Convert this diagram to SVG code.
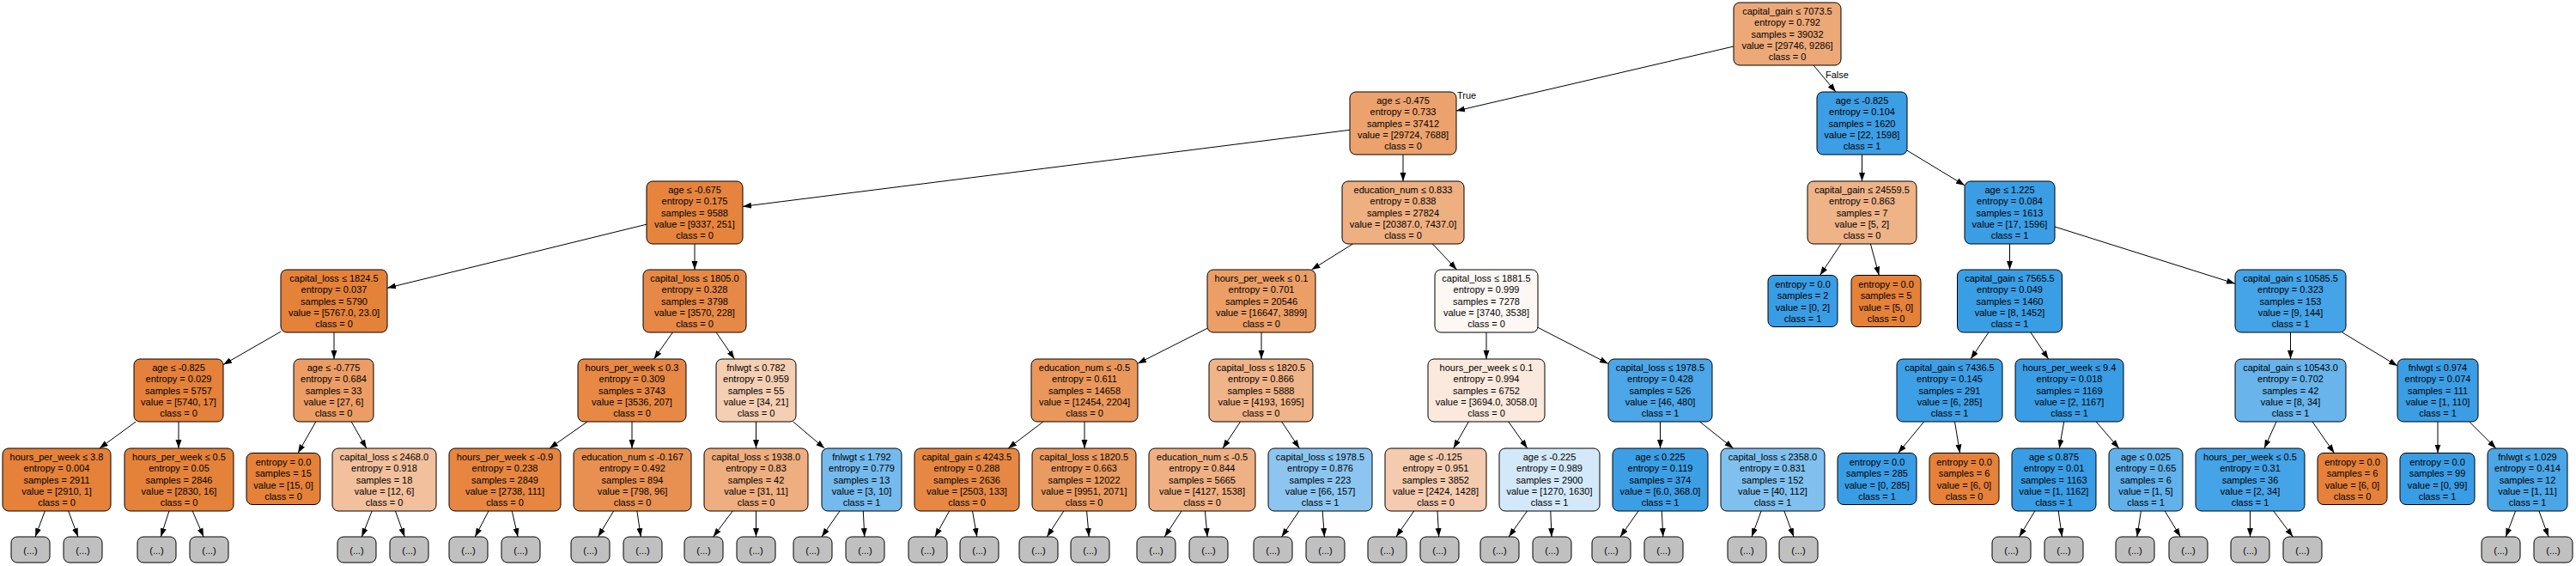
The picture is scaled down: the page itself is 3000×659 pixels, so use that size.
<svg xmlns="http://www.w3.org/2000/svg" width="3000" height="659" viewBox="0 0 3000 659">
<defs>
<style>
.node rect{stroke:#000;stroke-width:1}
.node text,.lbl{font-family:"Liberation Sans",Arial,sans-serif;font-size:11px;fill:#000;text-anchor:middle}
.lbl{text-anchor:start}
.dots rect{fill:#c0c0c0;stroke:#000;stroke-width:1}
.dots text{font-family:"Liberation Sans",Arial,sans-serif;font-size:11px;fill:#000;text-anchor:middle}
#edges path{stroke:#000;stroke-width:1;fill:none;marker-end:url(#ah)}
</style>
<marker id="ah" markerWidth="10" markerHeight="8" refX="10" refY="4" orient="auto" markerUnits="userSpaceOnUse"><path d="M0,0.5L10,4L0,7.5z" fill="#000"/></marker>
</defs>
<rect width="3000" height="659" fill="#fff"/>
<g id="edges">
<path d="M2019 54L1696 129.1"/>
<path d="M2112 76L2138 107"/>
<path d="M1572 151.3L865 240.4"/>
<path d="M1634 180L1634 211"/>
<path d="M2168.5 180L2168.5 211"/>
<path d="M2221 175.2L2288 215.8"/>
<path d="M753 261.2L451 335.3"/>
<path d="M809 284L809 314"/>
<path d="M1575.5 284L1527.5 314"/>
<path d="M1668.4 284L1696.6 314"/>
<path d="M2144 284L2119.6 320.5"/>
<path d="M2178.4 284L2188.3 320.5"/>
<path d="M2340.5 284L2340.5 314"/>
<path d="M2393 264L2603 330.2"/>
<path d="M327 386.1L260 424.6"/>
<path d="M389 387L389 418"/>
<path d="M783.4 387L761.6 418"/>
<path d="M834.1 387L855.4 418"/>
<path d="M1406 382.3L1325 423.2"/>
<path d="M1469 387L1469 418"/>
<path d="M1731 387L1731 418"/>
<path d="M1791 381.3L1873 423.4"/>
<path d="M2315.9 387L2295.1 418"/>
<path d="M2364.9 387L2385.6 418"/>
<path d="M2667.5 387L2667.5 418"/>
<path d="M2727.7 387L2792 426"/>
<path d="M158.2 491L115.8 522"/>
<path d="M208 491L208 522"/>
<path d="M367.8 491L347 527.5"/>
<path d="M409.2 491L426.8 522"/>
<path d="M684.1 491L639.9 522"/>
<path d="M736 491L736 522"/>
<path d="M880.5 491L880.5 522"/>
<path d="M923.7 491L960.3 522"/>
<path d="M1214.9 491L1174.1 522"/>
<path d="M1263 491L1263 522"/>
<path d="M1444.5 491L1424 522"/>
<path d="M1492.7 491L1513.3 522"/>
<path d="M1710.3 491L1692.7 522"/>
<path d="M1756.8 491L1778.7 522"/>
<path d="M1933.5 491L1933.5 522"/>
<path d="M1979.5 491L2018.5 522"/>
<path d="M2240.6 491L2210.6 527.5"/>
<path d="M2276.5 491L2282.5 527.5"/>
<path d="M2403.7 491L2398.3 522"/>
<path d="M2441.2 491L2467.8 522"/>
<path d="M2651 491L2637 522"/>
<path d="M2693 491L2718.5 527.5"/>
<path d="M2839 491L2839 527.5"/>
<path d="M2875.7 491L2906.8 522"/>
<path d="M52.3 595L41.1 625"/>
<path d="M79.7 595L90.9 625"/>
<path d="M196.9 595L187.3 625"/>
<path d="M224.2 595L237.1 625"/>
<path d="M433.2 595L421.4 625"/>
<path d="M460.5 595L471.2 625"/>
<path d="M569 595L553.3 625"/>
<path d="M596.3 595L603.1 625"/>
<path d="M714.6 595L696.5 625"/>
<path d="M741.9 595L746.3 625"/>
<path d="M853.2 595L830.7 625"/>
<path d="M880.5 595L880.5 625"/>
<path d="M978 595L957 625"/>
<path d="M1005.3 595L1006.8 625"/>
<path d="M1105.6 595L1088.9 625"/>
<path d="M1132.5 595L1137.8 625"/>
<path d="M1238.8 595L1219.3 625"/>
<path d="M1265.6 595L1268.2 625"/>
<path d="M1376 595L1356.3 625"/>
<path d="M1403.4 595L1406.1 625"/>
<path d="M1512.9 595L1492.6 625"/>
<path d="M1540.2 595L1542.4 625"/>
<path d="M1646.7 595L1625.9 625"/>
<path d="M1674 595L1675.7 625"/>
<path d="M1778.5 595L1757.2 625"/>
<path d="M1805.8 595L1807 625"/>
<path d="M1908 595L1887 625"/>
<path d="M1935.3 595L1936.8 625"/>
<path d="M2051.1 595L2040 625"/>
<path d="M2077.9 595L2089 625"/>
<path d="M2369.8 595L2351.6 625"/>
<path d="M2397.2 595L2401.4 625"/>
<path d="M2493.4 595L2488.8 625"/>
<path d="M2521.2 595L2539.4 625"/>
<path d="M2620.5 595L2620.5 625"/>
<path d="M2647.8 595L2670.3 625"/>
<path d="M2929.6 595L2918.2 625"/>
<path d="M2956.9 595L2968 625"/>
<text class="lbl" x="1697" y="115">True</text>
<text class="lbl" x="2126" y="90.5">False</text>
</g>

<g id="n0" class="node"><rect x="2019" y="3" width="125" height="73" rx="7" fill="#eda877"/><text x="2081.5" y="17"><tspan x="2081.5">capital_gain ≤ 7073.5</tspan><tspan x="2081.5" dy="13.3">entropy = 0.792</tspan><tspan x="2081.5" dy="13.3">samples = 39032</tspan><tspan x="2081.5" dy="13.3">value = [29746, 9286]</tspan><tspan x="2081.5" dy="13.3">class = 0</tspan></text></g>
<g id="n1" class="node"><rect x="1572" y="107" width="124" height="73" rx="7" fill="#eca26c"/><text x="1634" y="121"><tspan x="1634">age ≤ -0.475</tspan><tspan x="1634" dy="13.3">entropy = 0.733</tspan><tspan x="1634" dy="13.3">samples = 37412</tspan><tspan x="1634" dy="13.3">value = [29724, 7688]</tspan><tspan x="1634" dy="13.3">class = 0</tspan></text></g>
<g id="n2" class="node"><rect x="753" y="211" width="112" height="73" rx="7" fill="#e6843e"/><text x="809" y="225"><tspan x="809">age ≤ -0.675</tspan><tspan x="809" dy="13.3">entropy = 0.175</tspan><tspan x="809" dy="13.3">samples = 9588</tspan><tspan x="809" dy="13.3">value = [9337, 251]</tspan><tspan x="809" dy="13.3">class = 0</tspan></text></g>
<g id="n3" class="node"><rect x="327" y="314" width="124" height="73" rx="7" fill="#e5823a"/><text x="389" y="328"><tspan x="389">capital_loss ≤ 1824.5</tspan><tspan x="389" dy="13.3">entropy = 0.037</tspan><tspan x="389" dy="13.3">samples = 5790</tspan><tspan x="389" dy="13.3">value = [5767.0, 23.0]</tspan><tspan x="389" dy="13.3">class = 0</tspan></text></g>
<g id="n4" class="node"><rect x="156" y="418" width="104" height="73" rx="7" fill="#e5813a"/><text x="208" y="432"><tspan x="208">age ≤ -0.825</tspan><tspan x="208" dy="13.3">entropy = 0.029</tspan><tspan x="208" dy="13.3">samples = 5757</tspan><tspan x="208" dy="13.3">value = [5740, 17]</tspan><tspan x="208" dy="13.3">class = 0</tspan></text></g>
<g id="n5" class="node"><rect x="3" y="522" width="126" height="73" rx="7" fill="#e58139"/><text x="66" y="536"><tspan x="66">hours_per_week ≤ 3.8</tspan><tspan x="66" dy="13.3">entropy = 0.004</tspan><tspan x="66" dy="13.3">samples = 2911</tspan><tspan x="66" dy="13.3">value = [2910, 1]</tspan><tspan x="66" dy="13.3">class = 0</tspan></text></g>
<g id="n6" class="node"><rect x="145" y="522" width="127" height="73" rx="7" fill="#e5823a"/><text x="208.5" y="536"><tspan x="208.5">hours_per_week ≤ 0.5</tspan><tspan x="208.5" dy="13.3">entropy = 0.05</tspan><tspan x="208.5" dy="13.3">samples = 2846</tspan><tspan x="208.5" dy="13.3">value = [2830, 16]</tspan><tspan x="208.5" dy="13.3">class = 0</tspan></text></g>
<g id="n7" class="node"><rect x="342" y="418" width="93" height="73" rx="7" fill="#eb9d65"/><text x="388.5" y="432"><tspan x="388.5">age ≤ -0.775</tspan><tspan x="388.5" dy="13.3">entropy = 0.684</tspan><tspan x="388.5" dy="13.3">samples = 33</tspan><tspan x="388.5" dy="13.3">value = [27, 6]</tspan><tspan x="388.5" dy="13.3">class = 0</tspan></text></g>
<g id="n8" class="node"><rect x="287" y="527.5" width="86" height="60" rx="7" fill="#e58139"/><text x="330" y="542"><tspan x="330">entropy = 0.0</tspan><tspan x="330" dy="13.3">samples = 15</tspan><tspan x="330" dy="13.3">value = [15, 0]</tspan><tspan x="330" dy="13.3">class = 0</tspan></text></g>
<g id="n9" class="node"><rect x="387" y="522" width="121" height="73" rx="7" fill="#f2c09c"/><text x="447.5" y="536"><tspan x="447.5">capital_loss ≤ 2468.0</tspan><tspan x="447.5" dy="13.3">entropy = 0.918</tspan><tspan x="447.5" dy="13.3">samples = 18</tspan><tspan x="447.5" dy="13.3">value = [12, 6]</tspan><tspan x="447.5" dy="13.3">class = 0</tspan></text></g>
<g id="n10" class="node"><rect x="749" y="314" width="120" height="73" rx="7" fill="#e78946"/><text x="809" y="328"><tspan x="809">capital_loss ≤ 1805.0</tspan><tspan x="809" dy="13.3">entropy = 0.328</tspan><tspan x="809" dy="13.3">samples = 3798</tspan><tspan x="809" dy="13.3">value = [3570, 228]</tspan><tspan x="809" dy="13.3">class = 0</tspan></text></g>
<g id="n11" class="node"><rect x="673" y="418" width="126" height="73" rx="7" fill="#e78845"/><text x="736" y="432"><tspan x="736">hours_per_week ≤ 0.3</tspan><tspan x="736" dy="13.3">entropy = 0.309</tspan><tspan x="736" dy="13.3">samples = 3743</tspan><tspan x="736" dy="13.3">value = [3536, 207]</tspan><tspan x="736" dy="13.3">class = 0</tspan></text></g>
<g id="n12" class="node"><rect x="523" y="522" width="130" height="73" rx="7" fill="#e68641"/><text x="588" y="536"><tspan x="588">hours_per_week ≤ -0.9</tspan><tspan x="588" dy="13.3">entropy = 0.238</tspan><tspan x="588" dy="13.3">samples = 2849</tspan><tspan x="588" dy="13.3">value = [2738, 111]</tspan><tspan x="588" dy="13.3">class = 0</tspan></text></g>
<g id="n13" class="node"><rect x="668" y="522" width="137" height="73" rx="7" fill="#e89051"/><text x="736.5" y="536"><tspan x="736.5">education_num ≤ -0.167</tspan><tspan x="736.5" dy="13.3">entropy = 0.492</tspan><tspan x="736.5" dy="13.3">samples = 894</tspan><tspan x="736.5" dy="13.3">value = [798, 96]</tspan><tspan x="736.5" dy="13.3">class = 0</tspan></text></g>
<g id="n14" class="node"><rect x="834" y="418" width="93" height="73" rx="7" fill="#f5cfb3"/><text x="880.5" y="432"><tspan x="880.5">fnlwgt ≤ 0.782</tspan><tspan x="880.5" dy="13.3">entropy = 0.959</tspan><tspan x="880.5" dy="13.3">samples = 55</tspan><tspan x="880.5" dy="13.3">value = [34, 21]</tspan><tspan x="880.5" dy="13.3">class = 0</tspan></text></g>
<g id="n15" class="node"><rect x="820" y="522" width="121" height="73" rx="7" fill="#eeae7f"/><text x="880.5" y="536"><tspan x="880.5">capital_loss ≤ 1938.0</tspan><tspan x="880.5" dy="13.3">entropy = 0.83</tspan><tspan x="880.5" dy="13.3">samples = 42</tspan><tspan x="880.5" dy="13.3">value = [31, 11]</tspan><tspan x="880.5" dy="13.3">class = 0</tspan></text></g>
<g id="n16" class="node"><rect x="957" y="522" width="93" height="73" rx="7" fill="#74baed"/><text x="1003.5" y="536"><tspan x="1003.5">fnlwgt ≤ 1.792</tspan><tspan x="1003.5" dy="13.3">entropy = 0.779</tspan><tspan x="1003.5" dy="13.3">samples = 13</tspan><tspan x="1003.5" dy="13.3">value = [3, 10]</tspan><tspan x="1003.5" dy="13.3">class = 1</tspan></text></g>
<g id="n17" class="node"><rect x="1563" y="211" width="142" height="73" rx="7" fill="#eeaf81"/><text x="1634" y="225"><tspan x="1634">education_num ≤ 0.833</tspan><tspan x="1634" dy="13.3">entropy = 0.838</tspan><tspan x="1634" dy="13.3">samples = 27824</tspan><tspan x="1634" dy="13.3">value = [20387.0, 7437.0]</tspan><tspan x="1634" dy="13.3">class = 0</tspan></text></g>
<g id="n18" class="node"><rect x="1406" y="314" width="126" height="73" rx="7" fill="#eb9f67"/><text x="1469" y="328"><tspan x="1469">hours_per_week ≤ 0.1</tspan><tspan x="1469" dy="13.3">entropy = 0.701</tspan><tspan x="1469" dy="13.3">samples = 20546</tspan><tspan x="1469" dy="13.3">value = [16647, 3899]</tspan><tspan x="1469" dy="13.3">class = 0</tspan></text></g>
<g id="n19" class="node"><rect x="1201" y="418" width="124" height="73" rx="7" fill="#ea975c"/><text x="1263" y="432"><tspan x="1263">education_num ≤ -0.5</tspan><tspan x="1263" dy="13.3">entropy = 0.611</tspan><tspan x="1263" dy="13.3">samples = 14658</tspan><tspan x="1263" dy="13.3">value = [12454, 2204]</tspan><tspan x="1263" dy="13.3">class = 0</tspan></text></g>
<g id="n20" class="node"><rect x="1065" y="522" width="122" height="73" rx="7" fill="#e68844"/><text x="1126" y="536"><tspan x="1126">capital_gain ≤ 4243.5</tspan><tspan x="1126" dy="13.3">entropy = 0.288</tspan><tspan x="1126" dy="13.3">samples = 2636</tspan><tspan x="1126" dy="13.3">value = [2503, 133]</tspan><tspan x="1126" dy="13.3">class = 0</tspan></text></g>
<g id="n21" class="node"><rect x="1202" y="522" width="121" height="73" rx="7" fill="#ea9b62"/><text x="1262.5" y="536"><tspan x="1262.5">capital_loss ≤ 1820.5</tspan><tspan x="1262.5" dy="13.3">entropy = 0.663</tspan><tspan x="1262.5" dy="13.3">samples = 12022</tspan><tspan x="1262.5" dy="13.3">value = [9951, 2071]</tspan><tspan x="1262.5" dy="13.3">class = 0</tspan></text></g>
<g id="n22" class="node"><rect x="1408" y="418" width="121" height="73" rx="7" fill="#f0b489"/><text x="1468.5" y="432"><tspan x="1468.5">capital_loss ≤ 1820.5</tspan><tspan x="1468.5" dy="13.3">entropy = 0.866</tspan><tspan x="1468.5" dy="13.3">samples = 5888</tspan><tspan x="1468.5" dy="13.3">value = [4193, 1695]</tspan><tspan x="1468.5" dy="13.3">class = 0</tspan></text></g>
<g id="n23" class="node"><rect x="1338" y="522" width="124" height="73" rx="7" fill="#efb083"/><text x="1400" y="536"><tspan x="1400">education_num ≤ -0.5</tspan><tspan x="1400" dy="13.3">entropy = 0.844</tspan><tspan x="1400" dy="13.3">samples = 5665</tspan><tspan x="1400" dy="13.3">value = [4127, 1538]</tspan><tspan x="1400" dy="13.3">class = 0</tspan></text></g>
<g id="n24" class="node"><rect x="1477" y="522" width="121" height="73" rx="7" fill="#8cc6f0"/><text x="1537.5" y="536"><tspan x="1537.5">capital_loss ≤ 1978.5</tspan><tspan x="1537.5" dy="13.3">entropy = 0.876</tspan><tspan x="1537.5" dy="13.3">samples = 223</tspan><tspan x="1537.5" dy="13.3">value = [66, 157]</tspan><tspan x="1537.5" dy="13.3">class = 1</tspan></text></g>
<g id="n25" class="node"><rect x="1671" y="314" width="120" height="73" rx="7" fill="#fef8f4"/><text x="1731" y="328"><tspan x="1731">capital_loss ≤ 1881.5</tspan><tspan x="1731" dy="13.3">entropy = 0.999</tspan><tspan x="1731" dy="13.3">samples = 7278</tspan><tspan x="1731" dy="13.3">value = [3740, 3538]</tspan><tspan x="1731" dy="13.3">class = 0</tspan></text></g>
<g id="n26" class="node"><rect x="1663" y="418" width="136" height="73" rx="7" fill="#fbe9dd"/><text x="1731" y="432"><tspan x="1731">hours_per_week ≤ 0.1</tspan><tspan x="1731" dy="13.3">entropy = 0.994</tspan><tspan x="1731" dy="13.3">samples = 6752</tspan><tspan x="1731" dy="13.3">value = [3694.0, 3058.0]</tspan><tspan x="1731" dy="13.3">class = 0</tspan></text></g>
<g id="n27" class="node"><rect x="1613" y="522" width="118" height="73" rx="7" fill="#f4cbae"/><text x="1672" y="536"><tspan x="1672">age ≤ -0.125</tspan><tspan x="1672" dy="13.3">entropy = 0.951</tspan><tspan x="1672" dy="13.3">samples = 3852</tspan><tspan x="1672" dy="13.3">value = [2424, 1428]</tspan><tspan x="1672" dy="13.3">class = 0</tspan></text></g>
<g id="n28" class="node"><rect x="1746" y="522" width="117" height="73" rx="7" fill="#d3e9f9"/><text x="1804.5" y="536"><tspan x="1804.5">age ≤ -0.225</tspan><tspan x="1804.5" dy="13.3">entropy = 0.989</tspan><tspan x="1804.5" dy="13.3">samples = 2900</tspan><tspan x="1804.5" dy="13.3">value = [1270, 1630]</tspan><tspan x="1804.5" dy="13.3">class = 1</tspan></text></g>
<g id="n29" class="node"><rect x="1873" y="418" width="121" height="73" rx="7" fill="#4ca6e7"/><text x="1933.5" y="432"><tspan x="1933.5">capital_loss ≤ 1978.5</tspan><tspan x="1933.5" dy="13.3">entropy = 0.428</tspan><tspan x="1933.5" dy="13.3">samples = 526</tspan><tspan x="1933.5" dy="13.3">value = [46, 480]</tspan><tspan x="1933.5" dy="13.3">class = 1</tspan></text></g>
<g id="n30" class="node"><rect x="1878" y="522" width="111" height="73" rx="7" fill="#3c9fe5"/><text x="1933.5" y="536"><tspan x="1933.5">age ≤ 0.225</tspan><tspan x="1933.5" dy="13.3">entropy = 0.119</tspan><tspan x="1933.5" dy="13.3">samples = 374</tspan><tspan x="1933.5" dy="13.3">value = [6.0, 368.0]</tspan><tspan x="1933.5" dy="13.3">class = 1</tspan></text></g>
<g id="n31" class="node"><rect x="2004" y="522" width="121" height="73" rx="7" fill="#80c0ee"/><text x="2064.5" y="536"><tspan x="2064.5">capital_loss ≤ 2358.0</tspan><tspan x="2064.5" dy="13.3">entropy = 0.831</tspan><tspan x="2064.5" dy="13.3">samples = 152</tspan><tspan x="2064.5" dy="13.3">value = [40, 112]</tspan><tspan x="2064.5" dy="13.3">class = 1</tspan></text></g>
<g id="n32" class="node"><rect x="2116" y="107" width="105" height="73" rx="7" fill="#3c9ee5"/><text x="2168.5" y="121"><tspan x="2168.5">age ≤ -0.825</tspan><tspan x="2168.5" dy="13.3">entropy = 0.104</tspan><tspan x="2168.5" dy="13.3">samples = 1620</tspan><tspan x="2168.5" dy="13.3">value = [22, 1598]</tspan><tspan x="2168.5" dy="13.3">class = 1</tspan></text></g>
<g id="n33" class="node"><rect x="2105" y="211" width="127" height="73" rx="7" fill="#efb388"/><text x="2168.5" y="225"><tspan x="2168.5">capital_gain ≤ 24559.5</tspan><tspan x="2168.5" dy="13.3">entropy = 0.863</tspan><tspan x="2168.5" dy="13.3">samples = 7</tspan><tspan x="2168.5" dy="13.3">value = [5, 2]</tspan><tspan x="2168.5" dy="13.3">class = 0</tspan></text></g>
<g id="n34" class="node"><rect x="2059" y="320.5" width="81" height="60" rx="7" fill="#399de5"/><text x="2099.5" y="335"><tspan x="2099.5">entropy = 0.0</tspan><tspan x="2099.5" dy="13.3">samples = 2</tspan><tspan x="2099.5" dy="13.3">value = [0, 2]</tspan><tspan x="2099.5" dy="13.3">class = 1</tspan></text></g>
<g id="n35" class="node"><rect x="2156" y="320.5" width="81" height="60" rx="7" fill="#e58139"/><text x="2196.5" y="335"><tspan x="2196.5">entropy = 0.0</tspan><tspan x="2196.5" dy="13.3">samples = 5</tspan><tspan x="2196.5" dy="13.3">value = [5, 0]</tspan><tspan x="2196.5" dy="13.3">class = 0</tspan></text></g>
<g id="n36" class="node"><rect x="2288" y="211" width="105" height="73" rx="7" fill="#3b9ee5"/><text x="2340.5" y="225"><tspan x="2340.5">age ≤ 1.225</tspan><tspan x="2340.5" dy="13.3">entropy = 0.084</tspan><tspan x="2340.5" dy="13.3">samples = 1613</tspan><tspan x="2340.5" dy="13.3">value = [17, 1596]</tspan><tspan x="2340.5" dy="13.3">class = 1</tspan></text></g>
<g id="n37" class="node"><rect x="2279.5" y="314" width="122" height="73" rx="7" fill="#3a9ee5"/><text x="2340.5" y="328"><tspan x="2340.5">capital_gain ≤ 7565.5</tspan><tspan x="2340.5" dy="13.3">entropy = 0.049</tspan><tspan x="2340.5" dy="13.3">samples = 1460</tspan><tspan x="2340.5" dy="13.3">value = [8, 1452]</tspan><tspan x="2340.5" dy="13.3">class = 1</tspan></text></g>
<g id="n38" class="node"><rect x="2209" y="418" width="123" height="73" rx="7" fill="#3d9fe6"/><text x="2270.5" y="432"><tspan x="2270.5">capital_gain ≤ 7436.5</tspan><tspan x="2270.5" dy="13.3">entropy = 0.145</tspan><tspan x="2270.5" dy="13.3">samples = 291</tspan><tspan x="2270.5" dy="13.3">value = [6, 285]</tspan><tspan x="2270.5" dy="13.3">class = 1</tspan></text></g>
<g id="n39" class="node"><rect x="2140" y="527.5" width="92" height="60" rx="7" fill="#399de5"/><text x="2186" y="542"><tspan x="2186">entropy = 0.0</tspan><tspan x="2186" dy="13.3">samples = 285</tspan><tspan x="2186" dy="13.3">value = [0, 285]</tspan><tspan x="2186" dy="13.3">class = 1</tspan></text></g>
<g id="n40" class="node"><rect x="2247" y="527.5" width="81" height="60" rx="7" fill="#e58139"/><text x="2287.5" y="542"><tspan x="2287.5">entropy = 0.0</tspan><tspan x="2287.5" dy="13.3">samples = 6</tspan><tspan x="2287.5" dy="13.3">value = [6, 0]</tspan><tspan x="2287.5" dy="13.3">class = 0</tspan></text></g>
<g id="n41" class="node"><rect x="2347" y="418" width="126" height="73" rx="7" fill="#399de5"/><text x="2410" y="432"><tspan x="2410">hours_per_week ≤ 9.4</tspan><tspan x="2410" dy="13.3">entropy = 0.018</tspan><tspan x="2410" dy="13.3">samples = 1169</tspan><tspan x="2410" dy="13.3">value = [2, 1167]</tspan><tspan x="2410" dy="13.3">class = 1</tspan></text></g>
<g id="n42" class="node"><rect x="2343" y="522" width="98" height="73" rx="7" fill="#399de5"/><text x="2392" y="536"><tspan x="2392">age ≤ 0.875</tspan><tspan x="2392" dy="13.3">entropy = 0.01</tspan><tspan x="2392" dy="13.3">samples = 1163</tspan><tspan x="2392" dy="13.3">value = [1, 1162]</tspan><tspan x="2392" dy="13.3">class = 1</tspan></text></g>
<g id="n43" class="node"><rect x="2456" y="522" width="86" height="73" rx="7" fill="#61b1ea"/><text x="2499" y="536"><tspan x="2499">age ≤ 0.025</tspan><tspan x="2499" dy="13.3">entropy = 0.65</tspan><tspan x="2499" dy="13.3">samples = 6</tspan><tspan x="2499" dy="13.3">value = [1, 5]</tspan><tspan x="2499" dy="13.3">class = 1</tspan></text></g>
<g id="n44" class="node"><rect x="2603" y="314" width="129" height="73" rx="7" fill="#45a3e7"/><text x="2667.5" y="328"><tspan x="2667.5">capital_gain ≤ 10585.5</tspan><tspan x="2667.5" dy="13.3">entropy = 0.323</tspan><tspan x="2667.5" dy="13.3">samples = 153</tspan><tspan x="2667.5" dy="13.3">value = [9, 144]</tspan><tspan x="2667.5" dy="13.3">class = 1</tspan></text></g>
<g id="n45" class="node"><rect x="2603" y="418" width="129" height="73" rx="7" fill="#68b4eb"/><text x="2667.5" y="432"><tspan x="2667.5">capital_gain ≤ 10543.0</tspan><tspan x="2667.5" dy="13.3">entropy = 0.702</tspan><tspan x="2667.5" dy="13.3">samples = 42</tspan><tspan x="2667.5" dy="13.3">value = [8, 34]</tspan><tspan x="2667.5" dy="13.3">class = 1</tspan></text></g>
<g id="n46" class="node"><rect x="2557" y="522" width="127" height="73" rx="7" fill="#45a3e7"/><text x="2620.5" y="536"><tspan x="2620.5">hours_per_week ≤ 0.5</tspan><tspan x="2620.5" dy="13.3">entropy = 0.31</tspan><tspan x="2620.5" dy="13.3">samples = 36</tspan><tspan x="2620.5" dy="13.3">value = [2, 34]</tspan><tspan x="2620.5" dy="13.3">class = 1</tspan></text></g>
<g id="n47" class="node"><rect x="2699" y="527.5" width="81" height="60" rx="7" fill="#e58139"/><text x="2739.5" y="542"><tspan x="2739.5">entropy = 0.0</tspan><tspan x="2739.5" dy="13.3">samples = 6</tspan><tspan x="2739.5" dy="13.3">value = [6, 0]</tspan><tspan x="2739.5" dy="13.3">class = 0</tspan></text></g>
<g id="n48" class="node"><rect x="2792" y="418" width="94" height="73" rx="7" fill="#3b9ee5"/><text x="2839" y="432"><tspan x="2839">fnlwgt ≤ 0.974</tspan><tspan x="2839" dy="13.3">entropy = 0.074</tspan><tspan x="2839" dy="13.3">samples = 111</tspan><tspan x="2839" dy="13.3">value = [1, 110]</tspan><tspan x="2839" dy="13.3">class = 1</tspan></text></g>
<g id="n49" class="node"><rect x="2795" y="527.5" width="87" height="60" rx="7" fill="#399de5"/><text x="2838.5" y="542"><tspan x="2838.5">entropy = 0.0</tspan><tspan x="2838.5" dy="13.3">samples = 99</tspan><tspan x="2838.5" dy="13.3">value = [0, 99]</tspan><tspan x="2838.5" dy="13.3">class = 1</tspan></text></g>
<g id="n50" class="node"><rect x="2897" y="522" width="93" height="73" rx="7" fill="#4ba6e7"/><text x="2943.5" y="536"><tspan x="2943.5">fnlwgt ≤ 1.029</tspan><tspan x="2943.5" dy="13.3">entropy = 0.414</tspan><tspan x="2943.5" dy="13.3">samples = 12</tspan><tspan x="2943.5" dy="13.3">value = [1, 11]</tspan><tspan x="2943.5" dy="13.3">class = 1</tspan></text></g>

<g id="t0" class="dots"><rect x="13" y="625" width="45" height="30" rx="7"/><text x="35.5" y="645">(...)</text></g>
<g id="t1" class="dots"><rect x="74" y="625" width="45" height="30" rx="7"/><text x="96.5" y="645">(...)</text></g>
<g id="t2" class="dots"><rect x="160" y="625" width="45" height="30" rx="7"/><text x="182.5" y="645">(...)</text></g>
<g id="t3" class="dots"><rect x="221" y="625" width="45" height="30" rx="7"/><text x="243.5" y="645">(...)</text></g>
<g id="t4" class="dots"><rect x="393" y="625" width="45" height="30" rx="7"/><text x="415.5" y="645">(...)</text></g>
<g id="t5" class="dots"><rect x="454" y="625" width="45" height="30" rx="7"/><text x="476.5" y="645">(...)</text></g>
<g id="t6" class="dots"><rect x="523" y="625" width="45" height="30" rx="7"/><text x="545.5" y="645">(...)</text></g>
<g id="t7" class="dots"><rect x="584" y="625" width="45" height="30" rx="7"/><text x="606.5" y="645">(...)</text></g>
<g id="t8" class="dots"><rect x="665" y="625" width="45" height="30" rx="7"/><text x="687.5" y="645">(...)</text></g>
<g id="t9" class="dots"><rect x="726" y="625" width="45" height="30" rx="7"/><text x="748.5" y="645">(...)</text></g>
<g id="t10" class="dots"><rect x="797" y="625" width="45" height="30" rx="7"/><text x="819.5" y="645">(...)</text></g>
<g id="t11" class="dots"><rect x="858" y="625" width="45" height="30" rx="7"/><text x="880.5" y="645">(...)</text></g>
<g id="t12" class="dots"><rect x="924" y="625" width="45" height="30" rx="7"/><text x="946.5" y="645">(...)</text></g>
<g id="t13" class="dots"><rect x="985" y="625" width="45" height="30" rx="7"/><text x="1007.5" y="645">(...)</text></g>
<g id="t14" class="dots"><rect x="1058" y="625" width="45" height="30" rx="7"/><text x="1080.5" y="645">(...)</text></g>
<g id="t15" class="dots"><rect x="1118" y="625" width="45" height="30" rx="7"/><text x="1140.5" y="645">(...)</text></g>
<g id="t16" class="dots"><rect x="1187" y="625" width="45" height="30" rx="7"/><text x="1209.5" y="645">(...)</text></g>
<g id="t17" class="dots"><rect x="1247" y="625" width="45" height="30" rx="7"/><text x="1269.5" y="645">(...)</text></g>
<g id="t18" class="dots"><rect x="1324" y="625" width="45" height="30" rx="7"/><text x="1346.5" y="645">(...)</text></g>
<g id="t19" class="dots"><rect x="1385" y="625" width="45" height="30" rx="7"/><text x="1407.5" y="645">(...)</text></g>
<g id="t20" class="dots"><rect x="1460" y="625" width="45" height="30" rx="7"/><text x="1482.5" y="645">(...)</text></g>
<g id="t21" class="dots"><rect x="1521" y="625" width="45" height="30" rx="7"/><text x="1543.5" y="645">(...)</text></g>
<g id="t22" class="dots"><rect x="1593" y="625" width="45" height="30" rx="7"/><text x="1615.5" y="645">(...)</text></g>
<g id="t23" class="dots"><rect x="1654" y="625" width="45" height="30" rx="7"/><text x="1676.5" y="645">(...)</text></g>
<g id="t24" class="dots"><rect x="1724" y="625" width="45" height="30" rx="7"/><text x="1746.5" y="645">(...)</text></g>
<g id="t25" class="dots"><rect x="1785" y="625" width="45" height="30" rx="7"/><text x="1807.5" y="645">(...)</text></g>
<g id="t26" class="dots"><rect x="1854" y="625" width="45" height="30" rx="7"/><text x="1876.5" y="645">(...)</text></g>
<g id="t27" class="dots"><rect x="1915" y="625" width="45" height="30" rx="7"/><text x="1937.5" y="645">(...)</text></g>
<g id="t28" class="dots"><rect x="2012" y="625" width="45" height="30" rx="7"/><text x="2034.5" y="645">(...)</text></g>
<g id="t29" class="dots"><rect x="2072" y="625" width="45" height="30" rx="7"/><text x="2094.5" y="645">(...)</text></g>
<g id="t30" class="dots"><rect x="2320" y="625" width="45" height="30" rx="7"/><text x="2342.5" y="645">(...)</text></g>
<g id="t31" class="dots"><rect x="2381" y="625" width="45" height="30" rx="7"/><text x="2403.5" y="645">(...)</text></g>
<g id="t32" class="dots"><rect x="2464" y="625" width="45" height="30" rx="7"/><text x="2486.5" y="645">(...)</text></g>
<g id="t33" class="dots"><rect x="2526" y="625" width="45" height="30" rx="7"/><text x="2548.5" y="645">(...)</text></g>
<g id="t34" class="dots"><rect x="2598" y="625" width="45" height="30" rx="7"/><text x="2620.5" y="645">(...)</text></g>
<g id="t35" class="dots"><rect x="2659" y="625" width="45" height="30" rx="7"/><text x="2681.5" y="645">(...)</text></g>
<g id="t36" class="dots"><rect x="2890" y="625" width="45" height="30" rx="7"/><text x="2912.5" y="645">(...)</text></g>
<g id="t37" class="dots"><rect x="2951" y="625" width="45" height="30" rx="7"/><text x="2973.5" y="645">(...)</text></g>
</svg>
